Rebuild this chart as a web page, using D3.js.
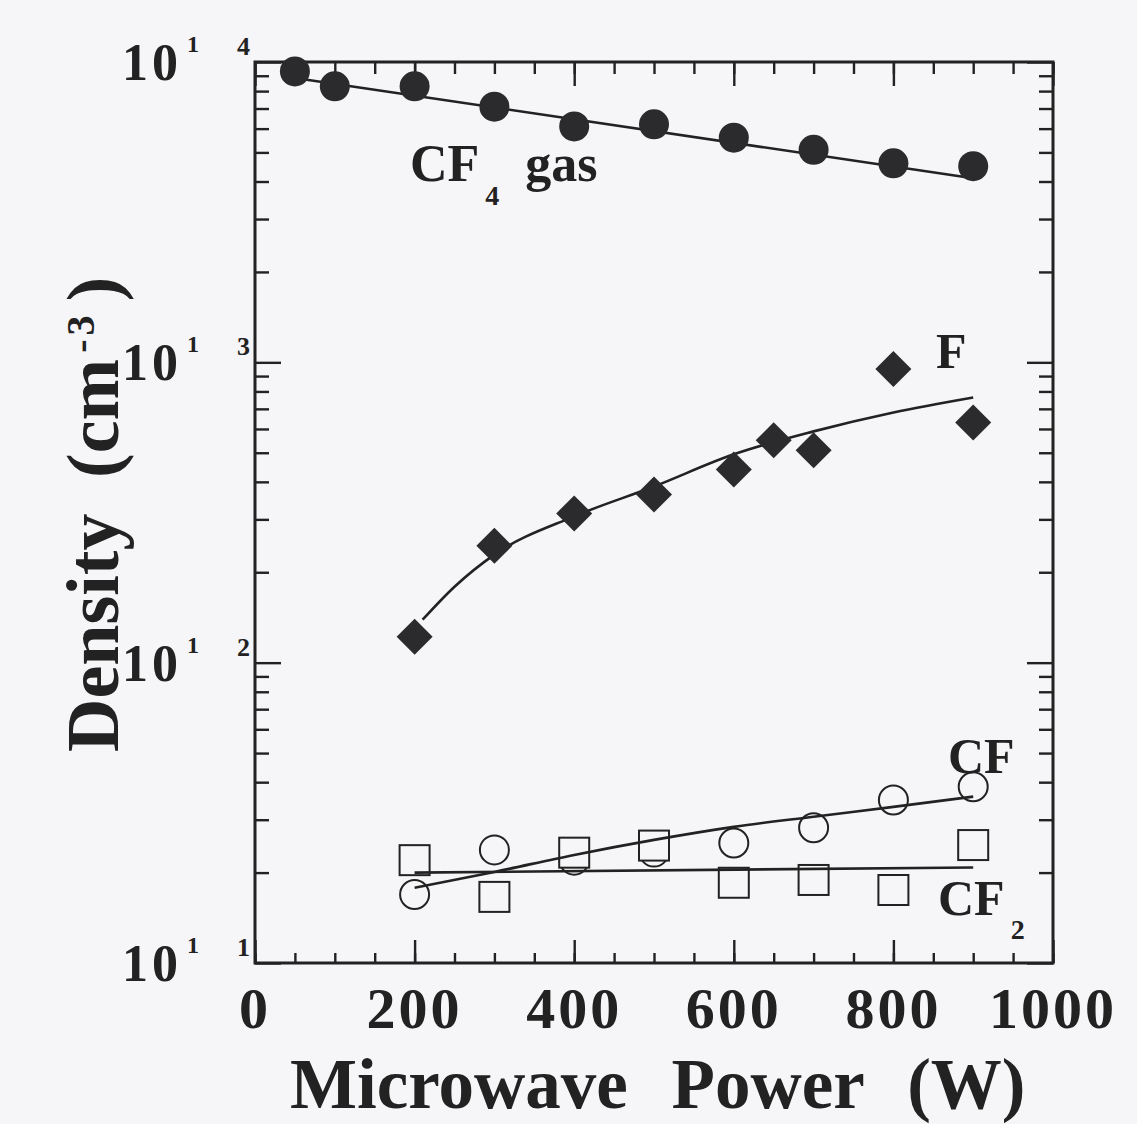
<!DOCTYPE html>
<html>
<head>
<meta charset="utf-8">
<script src="https://cdn.jsdelivr.net/npm/d3@7"></script>
<style>
  html, body { margin: 0; padding: 0; background: #f6f5f7; }
  svg { display: block; }
  text { font-family: "Liberation Serif", "DejaVu Serif", serif; fill: #222; }
</style>
</head>
<body>
<svg id="chart" width="1137" height="1124"></svg>
<script>
// Measured densities (cm^-3) versus microwave power (W)
const cf4Power   = [50, 100, 200, 300, 400, 500, 600, 700, 800, 900];
const cf4Density = [9.3e13, 8.3e13, 8.3e13, 7.1e13, 6.1e13, 6.2e13, 5.6e13, 5.1e13, 4.6e13, 4.5e13];

const fPower   = [200, 300, 400, 500, 600, 650, 700, 800, 900];
const fDensity = [1.22e12, 2.45e12, 3.14e12, 3.63e12, 4.4e12, 5.5e12, 5.1e12, 9.5e12, 6.3e12];

const cfPower   = [200, 300, 400, 500, 600, 700, 800, 900];
const cfDensity = [1.69e11, 2.38e11, 2.2e11, 2.34e11, 2.51e11, 2.82e11, 3.49e11, 3.86e11];

const cf2Power   = [200, 300, 400, 500, 600, 700, 800, 900];
const cf2Density = [2.2e11, 1.66e11, 2.33e11, 2.46e11, 1.85e11, 1.89e11, 1.75e11, 2.47e11];

// Fitted trend curves
const cf4FitPower   = [50, 900];
const cf4FitDensity = [8.85e13, 4.1e13];
const fFitPower     = [210, 250, 300, 400, 500, 600, 700, 800, 900];
const fFitDensity   = [1.39e12, 1.79e12, 2.29e12, 3.07e12, 3.86e12, 4.94e12, 5.89e12, 6.81e12, 7.64e12];
const cfFitPower    = [200, 300, 400, 500, 600, 700, 800, 900];
const cfFitDensity  = [1.78e11, 2.01e11, 2.29e11, 2.57e11, 2.84e11, 3.07e11, 3.31e11, 3.58e11];
const cf2FitPower   = [200, 900];
const cf2FitDensity = [2.0e11, 2.08e11];

// Axis ticks
const xTickLabels = [0, 200, 400, 600, 800, 1000];
const yExponents  = [11, 12, 13, 14];

const ink = "#222";
const paper = "#f6f5f7";
const svg = d3.select("#chart");
const plotL = 255, plotR = 1053, plotT = 62, plotB = 963;

const x = d3.scaleLinear().domain([0, 1000]).range([plotL, plotR]);
const y = d3.scaleLog().domain([1e11, 1e14]).range([plotB, plotT]);

const zip = (a, b) => a.map((v, i) => [v, b[i]]);

// Ticks (inward on all four sides)
const xMinor = d3.range(0, 1001, 50);
const yMinor = [];
for (let e = 11; e < 14; e++) for (let m = 2; m <= 9; m++) yMinor.push(m * Math.pow(10, e));
const yMajor = yExponents.map(e => Math.pow(10, e));

const g = svg.append("g");
function tickGroup(axis, tx, ty) {
  g.append("g").attr("transform", `translate(${tx},${ty})`)
    .call(axis)
    .call(a => a.select(".domain").remove());
}
tickGroup(d3.axisBottom(x).tickValues(xMinor).tickSize(-10).tickFormat(""), 0, plotB);
tickGroup(d3.axisBottom(x).tickValues(xTickLabels).tickSize(-23).tickFormat(""), 0, plotB);
tickGroup(d3.axisTop(x).tickValues(xMinor).tickSize(-12).tickFormat(""), 0, plotT);
tickGroup(d3.axisTop(x).tickValues(xTickLabels).tickSize(-24).tickFormat(""), 0, plotT);
tickGroup(d3.axisLeft(y).tickValues(yMinor).tickSize(-14).tickFormat(""), plotL, 0);
tickGroup(d3.axisLeft(y).tickValues(yMajor).tickSize(-26).tickFormat(""), plotL, 0);
tickGroup(d3.axisRight(y).tickValues(yMinor).tickSize(-14).tickFormat(""), plotR, 0);
tickGroup(d3.axisRight(y).tickValues(yMajor).tickSize(-26).tickFormat(""), plotR, 0);
g.selectAll(".tick line").attr("stroke", ink).attr("stroke-width", 2.4);

// frame
svg.append("rect")
  .attr("x", plotL).attr("y", plotT)
  .attr("width", plotR - plotL).attr("height", plotB - plotT)
  .attr("fill", "none").attr("stroke", ink).attr("stroke-width", 3);

// x tick labels
svg.append("g").selectAll("text").data(xTickLabels).join("text")
  .attr("x", d => x(d))
  .attr("y", 1028)
  .attr("text-anchor", "middle")
  .attr("font-size", 58).attr("font-weight", "bold")
  .attr("letter-spacing", 3)
  .text(d => d);

// y tick labels: "10" with superscripts
const yl = svg.append("g").selectAll("g").data(yExponents).join("g")
  .attr("transform", e => `translate(0,${y(Math.pow(10, e))})`);
yl.append("text").attr("x", 182).attr("y", 18)
  .attr("text-anchor", "end").attr("font-size", 52).attr("font-weight", "bold")
  .attr("letter-spacing", 4).text("10");
yl.append("text").attr("x", 187).attr("y", -10)
  .attr("font-size", 24).attr("font-weight", "bold").text("1");
yl.append("text").attr("x", 237).attr("y", -7)
  .attr("font-size", 26).attr("font-weight", "bold").text(e => e % 10);

// x axis title
svg.append("text")
  .attr("x", 290).attr("y", 1108)
  .attr("font-size", 71).attr("font-weight", "bold")
  .attr("word-spacing", 26)
  .text("Microwave Power (W)");

// y axis title (rotated; x runs upward along the axis)
const yTitle = svg.append("g").attr("transform", "translate(118,0) rotate(-90)");
yTitle.append("text").attr("x", -752).attr("y", 0)
  .attr("font-size", 74).attr("font-weight", "bold").text("Density");
const unit = yTitle.append("text").attr("x", -478).attr("y", 0)
  .attr("font-size", 74).attr("font-weight", "bold");
unit.append("tspan").text("(cm");
unit.append("tspan").attr("font-size", 40).attr("dx", 6).attr("dy", -24).text("-");
unit.append("tspan").attr("font-size", 40).attr("dx", 4).text("3");
unit.append("tspan").attr("dx", 14).attr("dy", 24).text(")");

// fitted curves
const line = d3.line().x(d => x(d[0])).y(d => y(d[1])).curve(d3.curveMonotoneX);
const fits = [
  zip(cf4FitPower, cf4FitDensity),
  zip(fFitPower, fFitDensity),
  zip(cfFitPower, cfFitDensity),
  zip(cf2FitPower, cf2FitDensity)
];

// open markers (CF circles, CF2 squares)
const marks = svg.append("g");
marks.append("g").selectAll("circle").data(zip(cfPower, cfDensity)).join("circle")
  .attr("cx", d => x(d[0])).attr("cy", d => y(d[1])).attr("r", 14.5)
  .attr("fill", paper).attr("stroke", ink).attr("stroke-width", 2);
marks.append("g").selectAll("rect").data(zip(cf2Power, cf2Density)).join("rect")
  .attr("x", d => x(d[0]) - 15).attr("y", d => y(d[1]) - 15)
  .attr("width", 30).attr("height", 30)
  .attr("fill", paper).attr("stroke", ink).attr("stroke-width", 2);

svg.append("g").selectAll("path").data(fits).join("path")
  .attr("d", line).attr("fill", "none").attr("stroke", ink).attr("stroke-width", 2.6);

// filled markers (CF4 circles, F diamonds)
const solid = svg.append("g");
solid.append("g").selectAll("circle").data(zip(cf4Power, cf4Density)).join("circle")
  .attr("cx", d => x(d[0])).attr("cy", d => y(d[1])).attr("r", 15)
  .attr("fill", "#2b2b2d");
solid.append("g").selectAll("path").data(zip(fPower, fDensity)).join("path")
  .attr("d", d => {
    const cx = x(d[0]), cy = y(d[1]), h = 18;
    return `M${cx},${cy - h}L${cx + h},${cy}L${cx},${cy + h}L${cx - h},${cy}Z`;
  })
  .attr("fill", "#2b2b2d");

// series labels
function label(tx, ty, main, sub, extra, size) {
  const t = svg.append("text").attr("x", tx).attr("y", ty)
    .attr("font-size", size || 50).attr("font-weight", "bold");
  t.append("tspan").text(main);
  if (sub) t.append("tspan").attr("font-size", 28).attr("dy", 24).attr("dx", 6).text(sub);
  if (extra) t.append("tspan").attr("dy", -24).attr("dx", 26).text(extra);
}
label(410, 181, "CF", "4", "gas", 52);
label(936, 368, "F");
label(948, 773, "CF");
label(938, 915, "CF", "2");
</script>
</body>
</html>
